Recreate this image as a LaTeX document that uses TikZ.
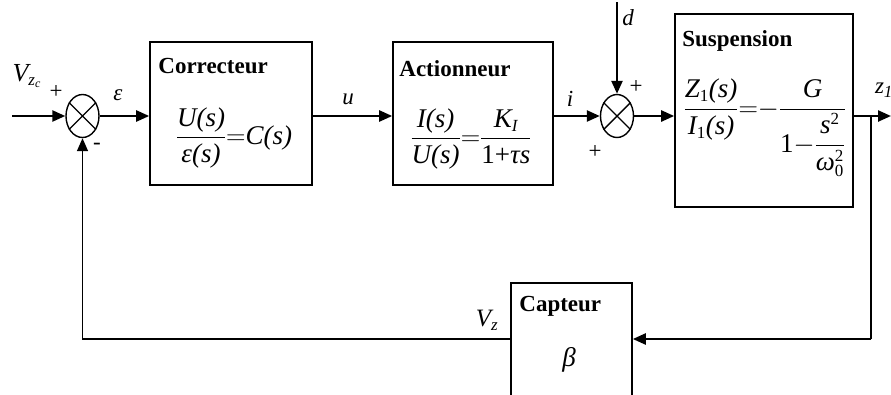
\RequirePackage{fix-cm}
\documentclass[tikz,border=0pt]{standalone}
\usepackage{amsmath}
\usepackage{fontspec}
\setmainfont{Liberation Serif}
\usetikzlibrary{shapes.geometric, arrows.meta, calc}
\newcommand{\ital}[1]{\mbox{\itshape #1}}
\newcommand{\sm}[1]{\mbox{\fontsize{17}{19}\selectfont #1}}
\newcommand{\ssm}[1]{\mbox{\fontsize{12}{14}\selectfont #1}}

\begin{document}
\begin{tikzpicture}[
        x=1pt, y=-1pt,
        block/.style={rectangle, draw=black, line width=1.6pt, inner sep=0pt},
        title/.style={inner sep=0pt, anchor=north west,
            font=\fontsize{23}{27}\selectfont\bfseries},
        formula/.style={inner sep=0pt, font=\fontsize{27}{31}\selectfont},
        lbl/.style={inner sep=0pt, font=\fontsize{23}{27}\selectfont},
        sum/.style={ellipse, draw=black, line width=1.4pt,
            minimum width=33pt, minimum height=43pt, inner sep=0pt},
        sig/.style={-{Triangle[length=13pt,width=11pt]}, line width=2.4pt},
        fbline/.style={-{Triangle[length=13pt,width=11pt]}, line width=1.5pt}
    ]
    \useasboundingbox (0,0) rectangle (891,394);
    \clip (0,0) rectangle (891,394);

    % blocs
    \node[block, minimum width=162pt, minimum height=143pt] (corr) at (231,113.5) {};
    \node[block, minimum width=160pt, minimum height=143pt] (act) at (473,113.5) {};
    \node[block, minimum width=178pt, minimum height=193pt] (susp) at (764,110.5) {};
    \node[block, minimum width=121pt, minimum height=137pt] (capt) at (571.5,351.5) {};

    \node[title] (corrtitle) at ($(corr.north west)+(9,17)$) {Correcteur};
    \node[title] (acttitle) at ($(act.north west)+(7,19)$) {Actionneur};
    \node[title] (susptitle) at ($(susp.north west)+(8,17)$) {Suspension};
    \node[title] (capttitle) at ($(capt.north west)+(9,14)$) {Capteur};

    \node[formula] (corrtf) at (234,138)
        {$\dfrac{\ital{U(s)}}{\ital{ε(s)}}{=}\ital{C(s)}$};
    \node[formula] (acttf) at (471,139)
        {$\dfrac{\ital{I(s)}}{\ital{U(s)}}{=}\dfrac{\ital{K}_{\sm{\itshape I}}}{\mbox{1+\itshape τs}}$};
    \node[formula, anchor=north] (susptf) at (765,79)
        {$\dfrac{\ital{Z}_{\sm{1}}\ital{(s)}}{\ital{I}_{\sm{1}}\ital{(s)}}{=}{-}\dfrac{\ital{G}}{\mbox{1}{-}\dfrac{\ital{s}^{\sm{2}}}{\ital{ω}_{\sm{0}}^{\sm{2}}}}$};
    \node[formula] (capttf) at (569,360) {\itshape β};

    % comparateurs
    \node[sum] (s1) at (82.5,116) {};
    \node[sum] (s2) at (617,116) {};
    \draw[line width=1.4pt] (s1.45) -- (s1.225) (s1.135) -- (s1.315);
    \draw[line width=1.4pt] (s2.45) -- (s2.225) (s2.135) -- (s2.315);

    % liaisons
    \coordinate (in) at (12,116);
    \coordinate (dist) at (617,2);
    \coordinate (out) at (891,116);
    \coordinate (br) at (871,116);
    \coordinate (fb) at (871,339);
    \coordinate (fbl) at (82.5,339);

    \draw[sig] (in) -- (s1);
    \draw[sig] (s1) -- (s1 -| corr.west);
    \draw[sig] (s1 -| corr.east) -- (s1 -| act.west);
    \draw[sig] (s1 -| act.east) -- (s2);
    \draw[sig] (dist) -- (s2);
    \draw[sig] (s2) -- (s2 -| susp.west);
    \draw[sig] (s2 -| susp.east) -- (out);
    \draw[line width=1.6pt] (br) -- (fb);
    \draw[sig] (fb) -- (fb -| capt.east);
    \draw[fbline] (fb -| capt.west) -- (fbl) -- (s1);

    % signaux
    \node[lbl, font=\fontsize{26}{30}\selectfont] (vzc) at (27,76)
        {$\ital{V}_{\sm{\itshape z}_{\ssm{\itshape c}}}$};
    \node[lbl] (eps) at (118,95) {\itshape ε};
    \node[lbl] (u) at (348,99) {\itshape u};
    \node[lbl] (i) at (570,99) {\itshape i};
    \node[lbl] (d) at (628,18) {\itshape d};
    \node[lbl] (z1) at (884,90) {$\ital{z}_{\sm{\itshape 1}}$};
    \node[lbl, font=\fontsize{25}{29}\selectfont] (vz) at (487,320)
        {$\ital{V}_{\sm{\itshape z}}$};

    % signes
    \node[lbl] (p1) at (56,92) {+};
    \node[lbl] (m1) at (97,146) {-};
    \node[lbl] (p2) at (636,87) {+};
    \node[lbl] (p3) at (595,152) {+};
\end{tikzpicture}
\end{document}
